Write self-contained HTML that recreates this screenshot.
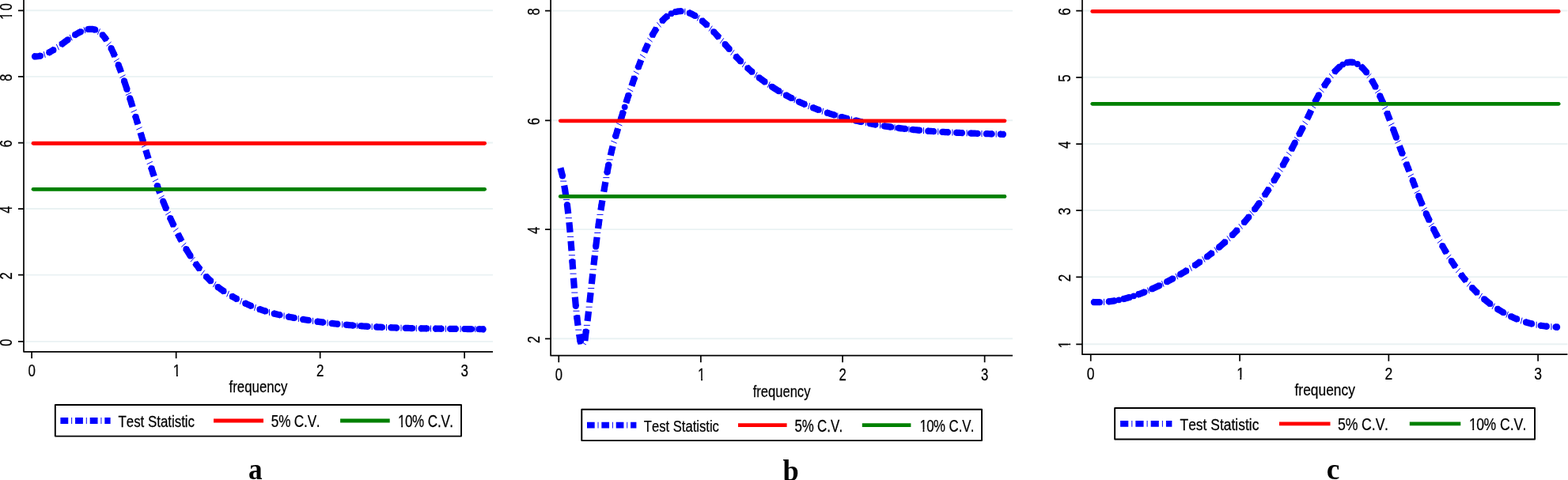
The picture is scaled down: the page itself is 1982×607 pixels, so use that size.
<!DOCTYPE html>
<html lang="en"><head><meta charset="utf-8"><title>Frequency-domain causality test</title>
<style>
html,body{margin:0;padding:0;background:#fff;}
body{width:1982px;height:607px;overflow:hidden;}
svg{display:block;font-family:"Liberation Sans", Arial, Helvetica, sans-serif;fill:#000;}
text{stroke:#000;stroke-width:0.25px;font-kerning:none;}
</style></head><body>
<svg width="1982" height="607" viewBox="0 0 1982 607">
<rect width="1982" height="607" fill="#fff"/>
<line x1="30" x2="623" y1="431.87" y2="431.87" stroke="#eaf2f3" stroke-width="1.9"/>
<line x1="30" x2="623" y1="347.62" y2="347.62" stroke="#eaf2f3" stroke-width="1.9"/>
<line x1="30" x2="623" y1="264.04" y2="264.04" stroke="#eaf2f3" stroke-width="1.9"/>
<line x1="30" x2="623" y1="180.54" y2="180.54" stroke="#eaf2f3" stroke-width="1.9"/>
<line x1="30" x2="623" y1="96.87" y2="96.87" stroke="#eaf2f3" stroke-width="1.9"/>
<line x1="30" x2="623" y1="13.29" y2="13.29" stroke="#eaf2f3" stroke-width="1.9"/>
<path d="M42.02 71.18L43.85 71.33L45.67 71.35L47.49 71.23L49.32 70.99L51.14 70.62L52.01 70.4M60.41 67.18L62.08 66.33L63.9 65.32L65.72 64.25L67.55 63.13L69.04 62.16M76.74 56.83L78.48 55.56L80.31 54.22L82.13 52.89L83.95 51.56L85.78 50.24L85.85 50.19M93.57 44.92L94.89 44.08L96.71 42.98L98.54 41.94L100.36 40.96L102.18 40.06L102.7 39.83M111.19 37.04L111.3 37.02L113.12 36.79L114.94 36.74L116.77 36.86L118.59 37.18L120.41 37.72L120.86 37.9M128.54 43.12L129.53 44.1L131.35 46.21L133.17 48.6L134.95 51.21M140.06 60.16L140.47 60.94L142.29 64.69L144.11 68.68L145.23 71.27M149.24 81.07L149.58 81.94L151.4 86.74L153.17 91.55M156.71 101.62L156.87 102.08L158.69 107.46L160.52 112.95L160.75 113.65M164.04 123.85L164.16 124.22L165.99 129.98L167.66 135.35M170.83 145.61L171.46 147.64L173.28 153.61L174.4 157.28M177.51 167.57L178.75 171.66L180.57 177.68L181.09 179.4M184.22 189.68L186.04 195.6L187.67 200.84M190.89 211.08L191.51 213.01L193.33 218.64L194.78 223.03M198.22 233.15L198.8 234.82L200.62 239.93L202.21 244.25M206.02 254.17L206.09 254.35L207.92 258.88L209.74 263.28L210.44 264.93M214.66 274.59L215.21 275.82L217.03 279.8L218.85 283.7L219.96 286.01M224.58 295.37L226.15 298.42L227.97 301.89L229.74 305.17M234.83 314.14L235.26 314.88L237.08 317.91L238.91 320.85L240.73 323.72L240.8 323.83M246.5 332.22L248.02 334.33L249.85 336.78L251.67 339.15L253.18 341.05M259.62 348.54L260.78 349.79L262.61 351.69L264.43 353.5L266.25 355.24L267.58 356.46M274.89 362.59L275.37 362.96L277.19 364.33L279.01 365.65L280.84 366.93L282.66 368.16L284.14 369.12M292.04 373.95L293.6 374.85L295.42 375.88L297.24 376.9L299.07 377.9L300.62 378.74M308.75 382.94L310 383.55L311.83 384.41L313.65 385.26L315.47 386.07L317.3 386.86L318.27 387.27M326.67 390.54L328.23 391.1L330.06 391.72L331.88 392.33L333.7 392.92L335.53 393.49L336.19 393.69M344.77 396.11L346.46 396.55L348.29 397.01L350.11 397.45L351.93 397.88L353.76 398.3L354.78 398.53M363.46 400.36L364.69 400.6L366.52 400.96L368.34 401.31L370.16 401.65L371.99 401.99L372.97 402.17M381.69 403.69L382.92 403.89L384.75 404.19L386.57 404.48L388.39 404.77L390.22 405.06L391.15 405.2M399.89 406.47L401.15 406.65L402.98 406.9L404.8 407.14L406.62 407.38L408.45 407.61L409.62 407.76M418.38 408.81L419.38 408.92L421.21 409.12L423.03 409.32L424.85 409.52L426.68 409.71L428.31 409.87M437.08 410.71L437.61 410.76L439.44 410.92L441.26 411.08L443.08 411.24L444.91 411.39L446.73 411.54L446.9 411.55M455.69 412.21L455.84 412.22L457.67 412.35L459.49 412.47L461.31 412.59L463.14 412.71L464.96 412.82L465.8 412.87M474.59 413.38L475.9 413.45L477.72 413.54L479.54 413.63L481.37 413.72L483.19 413.8L484.1 413.85M492.89 414.22L494.13 414.27L495.95 414.33L497.77 414.4L499.6 414.46L501.42 414.53L502.6 414.57M511.4 414.83L512.36 414.86L514.18 414.91L516 414.95L517.83 415L519.65 415.04L521.47 415.09L521.9 415.1M530.7 415.28L532.41 415.31L534.23 415.34L536.06 415.37L537.88 415.4L539.7 415.43L540.1 415.44M548.9 415.57L550.64 415.59L552.46 415.61L554.29 415.64L556.11 415.66L557.93 415.68L559 415.69M567.8 415.79L568.87 415.8L570.69 415.82L572.52 415.84L574.34 415.85L576.16 415.87L577.7 415.89M586.5 415.98L587.1 415.99L588.92 416.01L590.75 416.03L592.57 416.05L594.39 416.07L596.22 416.09L596.4 416.09M605.2 416.2L605.33 416.2L607.15 416.23L608.98 416.26L610.8 416.28L612.62 416.31" stroke="#0000ff" stroke-width="8.2" fill="none" stroke-linejoin="round"/>
<path d="M55.3 65.13L57.23 72.89M71.28 55.89L74.54 63.2M88.07 43.83L91.29 51.16M106.05 34.24L107.73 42.07M126.49 36.39L123.3 43.73M140.59 52.95L134.6 58.25M150.64 73.98L143.91 78.31M158.46 94.65L151.46 98.51M165.98 116.94L158.84 120.55M172.86 138.74L165.65 142.22M179.57 160.72L172.34 164.14M186.27 182.82L179.04 186.26M192.86 204.2L185.68 207.72M200.02 226.23L192.95 229.97M207.53 247.17L200.66 251.28M215.83 267.52L209.22 272.03M225.42 288.27L219.08 293.15M235.25 307.03L229.27 312.34M246.36 325.16L240.86 330.97M258.75 341.65L253.96 348.07M273.08 356.08L269.3 363.13M289.52 367.87L286.61 375.32M305.93 377.08L303.42 384.68M323.42 385.08L321.49 392.84M340.47 390.95L340.47 398.95M359.12 395.47L359.12 403.47M377.33 398.94L377.33 406.94M395.51 401.85L395.51 409.85M414 404.3L414 412.3M432.69 406.31L432.69 414.31M451.3 407.89L451.3 415.89M470.2 409.13L470.2 417.13M488.5 410.04L488.5 418.04M507 410.7L507 418.7M526.3 411.19L526.3 419.19M544.5 411.51L544.5 419.51M563.4 411.74L563.4 419.74M582.1 411.93L582.1 419.93M600.8 412.14L600.8 420.14" stroke="#0000ff" stroke-width="1" fill="none"/>
<g fill="#0000ff"><circle cx="43.85" cy="71.33" r="3.9"/><circle cx="51.14" cy="70.62" r="3.9"/><circle cx="62.08" cy="66.33" r="3.9"/><circle cx="67.55" cy="63.13" r="3.9"/><circle cx="78.48" cy="55.56" r="3.9"/><circle cx="85.78" cy="50.24" r="3.9"/><circle cx="94.89" cy="44.08" r="3.9"/><circle cx="102.18" cy="40.06" r="3.9"/><circle cx="111.3" cy="37.02" r="3.9"/><circle cx="120.41" cy="37.72" r="3.9"/><circle cx="129.53" cy="44.1" r="3.9"/><circle cx="133.17" cy="48.6" r="3.9"/><circle cx="140.47" cy="60.94" r="3.9"/><circle cx="144.11" cy="68.68" r="3.9"/><circle cx="149.58" cy="81.94" r="3.9"/><circle cx="151.4" cy="86.74" r="3.9"/><circle cx="156.87" cy="102.08" r="3.9"/><circle cx="160.52" cy="112.95" r="3.9"/><circle cx="164.16" cy="124.22" r="3.9"/><circle cx="165.99" cy="129.98" r="3.9"/><circle cx="171.46" cy="147.64" r="3.9"/><circle cx="173.28" cy="153.61" r="3.9"/><circle cx="178.75" cy="171.66" r="3.9"/><circle cx="180.57" cy="177.68" r="3.9"/><circle cx="186.04" cy="195.6" r="3.9"/><circle cx="191.51" cy="213.01" r="3.9"/><circle cx="193.33" cy="218.64" r="3.9"/><circle cx="198.8" cy="234.82" r="3.9"/><circle cx="200.62" cy="239.93" r="3.9"/><circle cx="206.09" cy="254.35" r="3.9"/><circle cx="209.74" cy="263.28" r="3.9"/><circle cx="215.21" cy="275.82" r="3.9"/><circle cx="218.85" cy="283.7" r="3.9"/><circle cx="226.15" cy="298.42" r="3.9"/><circle cx="227.97" cy="301.89" r="3.9"/><circle cx="235.26" cy="314.88" r="3.9"/><circle cx="240.73" cy="323.72" r="3.9"/><circle cx="248.02" cy="334.33" r="3.9"/><circle cx="251.67" cy="339.15" r="3.9"/><circle cx="260.78" cy="349.79" r="3.9"/><circle cx="266.25" cy="355.24" r="3.9"/><circle cx="275.37" cy="362.96" r="3.9"/><circle cx="282.66" cy="368.16" r="3.9"/><circle cx="293.6" cy="374.85" r="3.9"/><circle cx="299.07" cy="377.9" r="3.9"/><circle cx="310" cy="383.55" r="3.9"/><circle cx="317.3" cy="386.86" r="3.9"/><circle cx="328.23" cy="391.1" r="3.9"/><circle cx="335.53" cy="393.49" r="3.9"/><circle cx="346.46" cy="396.55" r="3.9"/><circle cx="353.76" cy="398.3" r="3.9"/><circle cx="364.69" cy="400.6" r="3.9"/><circle cx="371.99" cy="401.99" r="3.9"/><circle cx="382.92" cy="403.89" r="3.9"/><circle cx="390.22" cy="405.06" r="3.9"/><circle cx="401.15" cy="406.65" r="3.9"/><circle cx="408.45" cy="407.61" r="3.9"/><circle cx="419.38" cy="408.92" r="3.9"/><circle cx="426.68" cy="409.71" r="3.9"/><circle cx="437.61" cy="410.76" r="3.9"/><circle cx="446.73" cy="411.54" r="3.9"/><circle cx="455.84" cy="412.22" r="3.9"/><circle cx="464.96" cy="412.82" r="3.9"/><circle cx="475.9" cy="413.45" r="3.9"/><circle cx="483.19" cy="413.8" r="3.9"/><circle cx="494.13" cy="414.27" r="3.9"/><circle cx="501.42" cy="414.53" r="3.9"/><circle cx="512.36" cy="414.86" r="3.9"/><circle cx="521.47" cy="415.09" r="3.9"/><circle cx="532.41" cy="415.31" r="3.9"/><circle cx="539.7" cy="415.43" r="3.9"/><circle cx="550.64" cy="415.59" r="3.9"/><circle cx="557.93" cy="415.68" r="3.9"/><circle cx="568.87" cy="415.8" r="3.9"/><circle cx="576.16" cy="415.87" r="3.9"/><circle cx="587.1" cy="415.99" r="3.9"/><circle cx="596.22" cy="416.09" r="3.9"/><circle cx="605.33" cy="416.2" r="3.9"/><circle cx="610.8" cy="416.28" r="3.9"/></g>
<line x1="42.02" x2="612.62" y1="239.3" y2="239.3" stroke="#008000" stroke-width="4.8" stroke-linecap="round"/>
<line x1="42.02" x2="612.62" y1="181.25" y2="181.25" stroke="#ff0000" stroke-width="4.8" stroke-linecap="round"/>
<path d="M30 -2V444.82H623" stroke="#000" stroke-width="1.7" fill="none" stroke-linejoin="round"/>
<path d="M30 431.87h-7.05M30 347.62h-7.05M30 264.04h-7.05M30 180.54h-7.05M30 96.87h-7.05M30 13.29h-7.05M40.11 444.82v8.5M222.65 444.82v8.5M404.65 444.82v8.5M587.11 444.82v8.5" stroke="#000" stroke-width="1.7" fill="none"/>
<g transform="translate(14.9 433.07) rotate(-90) scale(0.73 1)"><text x="0" font-size="22.6" text-anchor="middle" xml:space="preserve">0</text></g>
<g transform="translate(14.9 348.82) rotate(-90) scale(0.73 1)"><text x="0" font-size="22.6" text-anchor="middle" xml:space="preserve">2</text></g>
<g transform="translate(14.9 265.24) rotate(-90) scale(0.73 1)"><text x="0" font-size="22.6" text-anchor="middle" xml:space="preserve">4</text></g>
<g transform="translate(14.9 181.74) rotate(-90) scale(0.73 1)"><text x="0" font-size="22.6" text-anchor="middle" xml:space="preserve">6</text></g>
<g transform="translate(14.9 98.07) rotate(-90) scale(0.73 1)"><text x="0" font-size="22.6" text-anchor="middle" xml:space="preserve">8</text></g>
<g transform="translate(14.9 13.29) rotate(-90) scale(0.73 1)"><text x="0" font-size="22.6" text-anchor="middle" xml:space="preserve" letter-spacing="3">10</text><path d="M-14.67 -2.69H-10.11V2.5H-14.67ZM-7.67 -2.69H-3.14V2.5H-7.67Z" fill="#fff" stroke="none"/></g>
<g transform="translate(40.11 476.3) scale(0.785 1)"><text x="0" font-size="21.6" text-anchor="middle" xml:space="preserve">0</text></g>
<g transform="translate(222.65 476.3) scale(0.785 1)"><text x="1.15" font-size="21.6" text-anchor="middle" xml:space="preserve">1</text><path d="M-4 -2.61H0.37V2.5H-4ZM2.68 -2.61H7.02V2.5H2.68Z" fill="#fff" stroke="none"/></g>
<g transform="translate(404.65 476.3) scale(0.785 1)"><text x="0" font-size="21.6" text-anchor="middle" xml:space="preserve">2</text></g>
<g transform="translate(587.11 476.3) scale(0.785 1)"><text x="0" font-size="21.6" text-anchor="middle" xml:space="preserve">3</text></g>
<g transform="translate(326.5 495.8) scale(0.82 1)"><text x="0" font-size="20.5" text-anchor="middle" xml:space="preserve">frequency</text></g>
<rect x="69.8" y="512.04" width="513.23" height="39.54" fill="#fff" stroke="#000" stroke-width="1.9" stroke-linejoin="round"/>
<path d="M76.4 532H86.24M95.04 532H104.88M113.68 532H123.52M132.32 532H139.6" stroke="#0000ff" stroke-width="7.8" fill="none"/>
<path d="M90.16 532H91.12M108.8 532H109.76M127.44 532H128.4" stroke="#0000ff" stroke-width="7.8" fill="none"/>
<line x1="270" x2="333" y1="532" y2="532" stroke="#ff0000" stroke-width="4.8"/>
<line x1="430.1" x2="492.7" y1="532" y2="532" stroke="#008000" stroke-width="4.8"/>
<g transform="translate(149.5 539.7) scale(0.8 1)"><text x="0" font-size="21.1" text-anchor="start" xml:space="preserve">Test Statistic</text></g>
<g transform="translate(342.4 539.7) scale(0.794 1)"><text x="0" font-size="21.6" text-anchor="start" xml:space="preserve" dx="0.31 0 -0.63 0 0 0 -0.82">5% C.V.</text></g>
<g transform="translate(502.2 539.7) scale(0.789 1)"><text x="0" font-size="21.6" text-anchor="start" xml:space="preserve" dx="1.14 -0.82 -0.63 0 0 0 -0.25 -0.89">10% C.V.</text><path d="M2 -2.61H6.37V2.5H2ZM8.68 -2.61H12.48V2.5H8.68Z" fill="#fff" stroke="none"/></g>
<text transform="translate(322.85 606.3) scale(0.94 1)" style="font-family:'Liberation Serif','Times New Roman',Times,serif;font-weight:bold;stroke:none" font-size="37.5" text-anchor="middle">a</text>
<line x1="696.11" x2="1280" y1="428.29" y2="428.29" stroke="#eaf2f3" stroke-width="1.9"/>
<line x1="696.11" x2="1280" y1="290.12" y2="290.12" stroke="#eaf2f3" stroke-width="1.9"/>
<line x1="696.11" x2="1280" y1="152.29" y2="152.29" stroke="#eaf2f3" stroke-width="1.9"/>
<line x1="696.11" x2="1280" y1="13.61" y2="13.61" stroke="#eaf2f3" stroke-width="1.9"/>
<path d="M708.4 212.4L711.01 222.5L711.24 223.73M713.17 234.45L714.18 240L715.19 246.96M716.77 257.78L716.91 258.8L718.25 270.24M719.43 281.14L720.65 293.89M721.54 304.83L722.2 313L722.5 317.31M723.29 328.27L723.49 331L724.16 340.65M724.94 351.61L725.91 364.59M726.82 375.53L727.82 387L727.91 387.8M729.04 398.71L729.38 402L730.58 411.68M732.1 422.51L733.5 431.5L734.65 434.52M739.34 430.9L740.7 419.3L741.07 416.77M742.59 405.95L744.01 393.67M745.22 382.77L745.98 375.94L746.63 369.99M747.82 359.09L749.23 346.22M750.45 335.32L751.36 327.18L751.85 323.06M753.13 312.18L753.16 311.91L754.62 299.87M756.01 289.02L756.75 283.34L757.71 276.78M759.37 265.99L760.34 259.94L761.41 253.38M763.2 242.62L763.92 238.3L765.35 230M767.26 219.26L767.51 217.83L769.31 208.37L769.54 207.24M771.77 196.61L772.9 191.61L774.62 184.79M777.55 174.44L778.28 171.99L780.07 166.12L781.23 162.37M784.39 152.13L785.46 148.7L787.25 142.97L788.06 140.41M791.31 130.21L792.64 126.09L794.43 120.6L795 118.88M798.39 108.76L799.81 104.59L801.61 99.43L802.51 96.89M806.13 86.9L806.99 84.59L808.79 79.88L810.38 75.81M814.38 66.05L815.96 62.36L817.76 58.35L819.2 55.25M823.85 45.97L824.94 43.95L826.73 40.8L828.53 37.84L830.08 35.45M836.07 27.51L837.5 25.9L839.29 24.05L841.09 22.37L842.88 20.87L844.57 19.61M852.57 15.48L853.65 15.14L855.44 14.7L857.24 14.4L859.03 14.23L860.83 14.19L861.54 14.22M870.09 15.9L871.59 16.46L873.39 17.22L875.18 18.07L876.98 19.03L878.77 20.07L878.99 20.21M886.56 25.56L887.74 26.51L889.54 28.02L891.33 29.59L893.13 31.22L894.77 32.77M901.57 39.58L902.1 40.13L903.89 42.03L905.69 43.96L907.48 45.92L909.28 47.9M915.77 55.2L916.46 55.97L918.25 58.01L920.05 60.04L921.84 62.06L922.57 62.88M929.11 70.1L930.81 71.92L932.61 73.82L934.4 75.68L936.2 77.5L936.88 78.18M943.79 84.82L945.17 86.08L946.96 87.69L948.76 89.27L950.55 90.83L951.79 91.87M959.09 97.79L959.52 98.13L961.32 99.51L963.11 100.86L964.91 102.18L966.7 103.48L967.96 104.38M975.6 109.58L975.67 109.62L977.47 110.79L979.26 111.93L981.06 113.05L982.85 114.15L984.65 115.24L984.68 115.26M992.57 119.81L993.62 120.39L995.41 121.37L997.21 122.33L999 123.27L1000.8 124.2L1000.92 124.26M1009 128.23L1009.77 128.59L1011.57 129.42L1013.36 130.24L1015.15 131.04L1016.95 131.83L1018.46 132.48M1026.71 135.87L1027.72 136.26L1029.51 136.95L1031.3 137.63L1033.1 138.3L1034.89 138.96L1035.69 139.24M1044.05 142.12L1045.66 142.64L1047.45 143.22L1049.25 143.79L1051.04 144.34L1052.84 144.89L1054.63 145.42L1054.64 145.42M1063.09 147.83L1063.61 147.97L1065.4 148.45L1067.19 148.93L1068.99 149.39L1070.78 149.85L1072.28 150.23M1080.79 152.28L1081.55 152.45L1083.35 152.86L1085.14 153.26L1086.93 153.66L1088.73 154.04L1090.03 154.32M1098.6 156.04L1099.5 156.22L1101.29 156.56L1103.08 156.89L1104.88 157.21L1106.67 157.53L1108.19 157.8M1116.79 159.22L1117.44 159.33L1119.24 159.61L1121.03 159.88L1122.82 160.15L1124.62 160.41L1126.41 160.66L1126.73 160.71M1135.35 161.86L1135.39 161.86L1137.18 162.09L1138.97 162.31L1140.77 162.52L1142.56 162.73L1144.36 162.94L1144.65 162.97M1153.28 163.89L1153.33 163.89L1155.12 164.07L1156.92 164.24L1158.71 164.41L1160.51 164.58L1162.3 164.74L1163.18 164.82M1171.83 165.53L1173.07 165.63L1174.86 165.77L1176.66 165.9L1178.45 166.03L1180.25 166.15L1181.38 166.23M1190.04 166.78L1191.01 166.84L1192.81 166.94L1194.6 167.05L1196.4 167.14L1198.19 167.24L1199.58 167.31M1208.24 167.74L1208.96 167.77L1210.75 167.85L1212.55 167.93L1214.34 168.01L1216.14 168.08L1217.78 168.15M1226.45 168.48L1226.9 168.5L1228.7 168.56L1230.49 168.62L1232.29 168.69L1234.08 168.75L1235.88 168.81L1236.68 168.83M1245.34 169.11L1246.64 169.15L1248.44 169.2L1250.23 169.26L1252.03 169.31L1253.82 169.36L1254.86 169.39M1263.53 169.65L1264.59 169.68L1266.38 169.74L1268.18 169.79L1269.97 169.84" stroke="#0000ff" stroke-width="8.2" fill="none" stroke-linejoin="round"/>
<path d="M708.2 229.09L716.2 229.09M711.98 252.37L719.98 252.37M714.89 275.68L722.89 275.68M717.1 299.36L725.1 299.36M718.9 322.79L726.9 322.79M720.55 346.13L728.55 346.13M722.34 370.06L730.34 370.06M724.47 393.25L732.47 393.25M727.26 417.11L735.26 417.11M737.2 433.9L740.9 435.9M737.85 411.37L745.85 411.37M740.62 388.22L748.62 388.22M743.22 364.54L751.22 364.54M745.83 340.77L753.83 340.77M748.49 317.62L756.49 317.62M751.3 294.44L759.3 294.44M754.5 271.38L762.5 271.38M758.3 248L766.3 248M762.3 224.63L770.3 224.63M766.63 201.91L774.63 201.91M772.4 177.97L779.7 181.23M779.22 155.47L786.39 159.03M793.17 111.91L800.2 115.72M800.85 89.87L807.76 93.9M809.01 68.71L815.69 73.11M818.35 48.06L824.58 53.08M830.43 28.28L835.52 34.45M865.85 10.74L865.85 18.74M884.44 19.09L881.22 26.41M900.32 32.73L896.09 39.52M914.82 48.26L910.24 54.82M928.09 63.21L923.57 69.81M942.36 78.1L938.27 84.98M957.21 91.3L953.62 98.45M973.32 103.33L970.21 110.7M989.96 113.8L987.26 121.33M1006.11 122.45L1003.78 130.1M1023.56 130.33L1021.59 138.08M1040.7 136.8L1039.03 144.62M1058.86 142.65L1058.86 150.65M1076.53 147.28L1076.53 155.28M1094.31 151.2L1094.31 159.2M1112.49 154.53L1112.49 162.53M1131.04 157.3L1131.04 165.3M1148.96 159.44L1148.96 167.44M1167.5 161.19L1167.5 169.19M1185.71 162.51L1185.71 170.51M1203.91 163.53L1203.91 171.53M1222.12 164.32L1222.12 172.32M1241.01 164.97L1241.01 172.97M1259.2 165.52L1259.2 173.52" stroke="#0000ff" stroke-width="1" fill="none"/>
<g fill="#0000ff"><circle cx="711.01" cy="222.5" r="3.9"/><circle cx="714.18" cy="240" r="3.9"/><circle cx="716.91" cy="258.8" r="3.9"/><circle cx="722.2" cy="313" r="3.9"/><circle cx="723.49" cy="331" r="3.9"/><circle cx="727.82" cy="387" r="3.9"/><circle cx="729.38" cy="402" r="3.9"/><circle cx="733.5" cy="431.5" r="3.9"/><circle cx="740.7" cy="419.3" r="3.9"/><circle cx="745.98" cy="375.94" r="3.9"/><circle cx="751.36" cy="327.18" r="3.9"/><circle cx="753.16" cy="311.91" r="3.9"/><circle cx="756.75" cy="283.34" r="3.9"/><circle cx="760.34" cy="259.94" r="3.9"/><circle cx="763.92" cy="238.3" r="3.9"/><circle cx="767.51" cy="217.83" r="3.9"/><circle cx="769.31" cy="208.37" r="3.9"/><circle cx="772.9" cy="191.61" r="3.9"/><circle cx="778.28" cy="171.99" r="3.9"/><circle cx="780.07" cy="166.12" r="3.9"/><circle cx="785.46" cy="148.7" r="3.9"/><circle cx="787.25" cy="142.97" r="3.9"/><circle cx="792.64" cy="126.09" r="3.9"/><circle cx="794.43" cy="120.6" r="3.9"/><circle cx="799.81" cy="104.59" r="3.9"/><circle cx="801.61" cy="99.43" r="3.9"/><circle cx="806.99" cy="84.59" r="3.9"/><circle cx="808.79" cy="79.88" r="3.9"/><circle cx="815.96" cy="62.36" r="3.9"/><circle cx="817.76" cy="58.35" r="3.9"/><circle cx="824.94" cy="43.95" r="3.9"/><circle cx="828.53" cy="37.84" r="3.9"/><circle cx="837.5" cy="25.9" r="3.9"/><circle cx="842.88" cy="20.87" r="3.9"/><circle cx="853.65" cy="15.14" r="3.9"/><circle cx="860.83" cy="14.19" r="3.9"/><circle cx="871.59" cy="16.46" r="3.9"/><circle cx="878.77" cy="20.07" r="3.9"/><circle cx="887.74" cy="26.51" r="3.9"/><circle cx="893.13" cy="31.22" r="3.9"/><circle cx="902.1" cy="40.13" r="3.9"/><circle cx="907.48" cy="45.92" r="3.9"/><circle cx="916.46" cy="55.97" r="3.9"/><circle cx="921.84" cy="62.06" r="3.9"/><circle cx="930.81" cy="71.92" r="3.9"/><circle cx="936.2" cy="77.5" r="3.9"/><circle cx="945.17" cy="86.08" r="3.9"/><circle cx="950.55" cy="90.83" r="3.9"/><circle cx="959.52" cy="98.13" r="3.9"/><circle cx="966.7" cy="103.48" r="3.9"/><circle cx="975.67" cy="109.62" r="3.9"/><circle cx="984.65" cy="115.24" r="3.9"/><circle cx="993.62" cy="120.39" r="3.9"/><circle cx="1000.8" cy="124.2" r="3.9"/><circle cx="1009.77" cy="128.59" r="3.9"/><circle cx="1016.95" cy="131.83" r="3.9"/><circle cx="1027.72" cy="136.26" r="3.9"/><circle cx="1034.89" cy="138.96" r="3.9"/><circle cx="1045.66" cy="142.64" r="3.9"/><circle cx="1054.63" cy="145.42" r="3.9"/><circle cx="1063.61" cy="147.97" r="3.9"/><circle cx="1070.78" cy="149.85" r="3.9"/><circle cx="1081.55" cy="152.45" r="3.9"/><circle cx="1088.73" cy="154.04" r="3.9"/><circle cx="1099.5" cy="156.22" r="3.9"/><circle cx="1106.67" cy="157.53" r="3.9"/><circle cx="1117.44" cy="159.33" r="3.9"/><circle cx="1126.41" cy="160.66" r="3.9"/><circle cx="1135.39" cy="161.86" r="3.9"/><circle cx="1144.36" cy="162.94" r="3.9"/><circle cx="1153.33" cy="163.89" r="3.9"/><circle cx="1162.3" cy="164.74" r="3.9"/><circle cx="1173.07" cy="165.63" r="3.9"/><circle cx="1180.25" cy="166.15" r="3.9"/><circle cx="1191.01" cy="166.84" r="3.9"/><circle cx="1198.19" cy="167.24" r="3.9"/><circle cx="1208.96" cy="167.77" r="3.9"/><circle cx="1216.14" cy="168.08" r="3.9"/><circle cx="1226.9" cy="168.5" r="3.9"/><circle cx="1235.88" cy="168.81" r="3.9"/><circle cx="1246.64" cy="169.15" r="3.9"/><circle cx="1253.82" cy="169.36" r="3.9"/><circle cx="1264.59" cy="169.68" r="3.9"/><circle cx="1268.18" cy="169.79" r="3.9"/><circle cx="789.68" cy="135.31" r="3.9"/><circle cx="848.47" cy="17.22" r="3.9"/></g>
<line x1="708.29" x2="1269.97" y1="248.45" y2="248.45" stroke="#008000" stroke-width="4.8" stroke-linecap="round"/>
<line x1="708.29" x2="1269.97" y1="152.8" y2="152.8" stroke="#ff0000" stroke-width="4.8" stroke-linecap="round"/>
<path d="M696.11 -2V449.63H1280" stroke="#000" stroke-width="1.7" fill="none" stroke-linejoin="round"/>
<path d="M696.11 428.29h-7.05M696.11 290.12h-7.05M696.11 152.29h-7.05M696.11 13.61h-7.05M706.28 449.63v8.5M885.86 449.63v8.5M1065.06 449.63v8.5M1244.62 449.63v8.5" stroke="#000" stroke-width="1.7" fill="none"/>
<g transform="translate(681.7 429.49) rotate(-90) scale(0.719 1)"><text x="0" font-size="22.6" text-anchor="middle" xml:space="preserve">2</text></g>
<g transform="translate(681.7 291.32) rotate(-90) scale(0.719 1)"><text x="0" font-size="22.6" text-anchor="middle" xml:space="preserve">4</text></g>
<g transform="translate(681.7 153.49) rotate(-90) scale(0.719 1)"><text x="0" font-size="22.6" text-anchor="middle" xml:space="preserve">6</text></g>
<g transform="translate(681.7 14.81) rotate(-90) scale(0.719 1)"><text x="0" font-size="22.6" text-anchor="middle" xml:space="preserve">8</text></g>
<g transform="translate(706.28 481.2) scale(0.7732 1)"><text x="0" font-size="21.6" text-anchor="middle" xml:space="preserve">0</text></g>
<g transform="translate(885.86 481.2) scale(0.7732 1)"><text x="1.16" font-size="21.6" text-anchor="middle" xml:space="preserve">1</text><path d="M-3.98 -2.61H0.38V2.5H-3.98ZM2.7 -2.61H7.04V2.5H2.7Z" fill="#fff" stroke="none"/></g>
<g transform="translate(1065.06 481.2) scale(0.7732 1)"><text x="0" font-size="21.6" text-anchor="middle" xml:space="preserve">2</text></g>
<g transform="translate(1244.62 481.2) scale(0.7732 1)"><text x="0" font-size="21.6" text-anchor="middle" xml:space="preserve">3</text></g>
<g transform="translate(988.06 502) scale(0.8077 1)"><text x="0" font-size="20.5" text-anchor="middle" xml:space="preserve">frequency</text></g>
<rect x="735.29" y="517.79" width="505.74" height="39.29" fill="#fff" stroke="#000" stroke-width="1.9" stroke-linejoin="round"/>
<path d="M742 537.7H751.69M760.36 537.7H770.05M778.72 537.7H788.41M797.08 537.7H804.4" stroke="#0000ff" stroke-width="7.8" fill="none"/>
<path d="M755.55 537.7H756.5M773.91 537.7H774.86M792.27 537.7H793.22" stroke="#0000ff" stroke-width="7.8" fill="none"/>
<line x1="933" x2="994.6" y1="537.7" y2="537.7" stroke="#ff0000" stroke-width="4.8"/>
<line x1="1089.8" x2="1151.4" y1="537.7" y2="537.7" stroke="#008000" stroke-width="4.8"/>
<g transform="translate(813.8 545.5) scale(0.788 1)"><text x="0" font-size="21.1" text-anchor="start" xml:space="preserve">Test Statistic</text></g>
<g transform="translate(1004.2 545.5) scale(0.7821 1)"><text x="0" font-size="21.6" text-anchor="start" xml:space="preserve" dx="0.31 0 -0.63 0 0 0 -0.82">5% C.V.</text></g>
<g transform="translate(1161.6 545.5) scale(0.7772 1)"><text x="0" font-size="21.6" text-anchor="start" xml:space="preserve" dx="1.14 -0.82 -0.63 0 0 0 -0.25 -0.89">10% C.V.</text><path d="M2 -2.61H6.37V2.5H2ZM8.69 -2.61H12.48V2.5H8.69Z" fill="#fff" stroke="none"/></g>
<text transform="translate(999.6 607.8) scale(0.985 1)" style="font-family:'Liberation Serif','Times New Roman',Times,serif;font-weight:bold;stroke:none" font-size="37" text-anchor="middle">b</text>
<line x1="1368" x2="1981.4" y1="435.29" y2="435.29" stroke="#eaf2f3" stroke-width="1.9"/>
<line x1="1368" x2="1981.4" y1="350.29" y2="350.29" stroke="#eaf2f3" stroke-width="1.9"/>
<line x1="1368" x2="1981.4" y1="266.04" y2="266.04" stroke="#eaf2f3" stroke-width="1.9"/>
<line x1="1368" x2="1981.4" y1="182.03" y2="182.03" stroke="#eaf2f3" stroke-width="1.9"/>
<line x1="1368" x2="1981.4" y1="97.79" y2="97.79" stroke="#eaf2f3" stroke-width="1.9"/>
<line x1="1368" x2="1981.4" y1="13.54" y2="13.54" stroke="#eaf2f3" stroke-width="1.9"/>
<path d="M1380.78 381.97L1382.67 382.06L1384.55 382.12L1386.43 382.16L1388.32 382.16L1390.2 382.13L1390.95 382.1M1400.03 381.51L1401.5 381.35L1403.38 381.13L1405.26 380.88L1407.14 380.6L1409.03 380.29L1409.82 380.16M1418.79 378.32L1420.33 377.95L1422.21 377.48L1424.09 376.98L1425.98 376.46L1427.86 375.92L1428.65 375.68M1437.44 372.84L1439.16 372.23L1441.04 371.54L1442.92 370.84L1444.81 370.12L1446.69 369.37L1447.27 369.14M1455.86 365.51L1456.1 365.4L1457.99 364.56L1459.87 363.7L1461.75 362.83L1463.64 361.94L1465.52 361.03L1465.62 360.98M1474.02 356.77L1474.93 356.3L1476.82 355.32L1478.7 354.32L1480.58 353.31L1482.47 352.29L1483.33 351.82M1491.58 347.17L1491.88 347L1493.76 345.9L1495.65 344.78L1497.53 343.65L1499.41 342.51L1500.92 341.58M1508.97 336.45L1510.71 335.3L1512.59 334.04L1514.48 332.76L1516.36 331.46L1517.48 330.68M1525.29 325.04L1525.77 324.69L1527.66 323.27L1529.54 321.84L1531.42 320.38L1533.13 319.04M1540.67 312.89L1540.84 312.75L1542.72 311.14L1544.6 309.51L1546.49 307.85L1548.37 306.16L1549.53 305.1M1556.69 298.31L1557.79 297.23L1559.67 295.34L1561.55 293.42L1563.43 291.46L1564.79 290.01M1571.51 282.58L1572.85 281.04L1574.73 278.83L1576.62 276.57L1578.5 274.28L1579.09 273.53M1585.34 265.53L1586.03 264.62L1587.91 262.1L1589.8 259.53L1591.68 256.91L1592.13 256.27M1597.96 247.83L1599.21 245.97L1601.09 243.12L1602.98 240.22L1604.35 238.07M1609.82 229.28L1610.51 228.16L1612.39 225.03L1614.28 221.85L1615.76 219.3M1620.93 210.24L1621.81 208.67L1623.69 205.28L1625.57 201.84L1626.91 199.38M1631.84 190.13L1633.11 187.73L1634.99 184.11L1636.87 180.47L1636.93 180.35M1641.72 171L1642.52 169.44L1644.4 165.76L1646.29 162.08L1647.34 160.01M1652.07 150.6L1653.82 146.99L1655.7 143.03L1657.43 139.35M1661.98 129.82L1663.23 127.29L1665.12 123.63L1667 120.16L1667.83 118.7M1673.18 109.81L1674.53 107.71L1676.41 104.88L1678.3 102.13L1679.73 100.11M1685.92 92.06L1687.71 90L1689.6 87.99L1691.48 86.14L1693.36 84.47L1693.42 84.42M1701.54 79.57L1702.78 79.16L1704.66 78.76L1706.54 78.58L1708.43 78.63L1710.31 78.9L1711.54 79.22M1719.8 83.69L1721.61 85.25L1723.49 87.1L1725.37 89.18L1727.26 91.49L1727.52 91.84M1733.3 100.34L1734.79 102.82L1736.67 106.15L1738.55 109.66L1739.15 110.82M1743.77 120.3L1744.2 121.23L1746.09 125.41L1747.97 129.74L1748.69 131.45M1752.72 141.31L1753.62 143.56L1755.5 148.43L1756.97 152.32M1760.69 162.36L1761.15 163.6L1763.03 168.76L1764.91 173.91L1765.1 174.41M1768.82 184.45L1770.56 189.06L1772.45 193.91L1773.14 195.66M1777.07 205.58L1778.1 208.16L1779.98 212.99L1781.46 216.86M1785.23 226.87L1785.63 227.93L1787.51 232.96L1789.26 237.6M1793.1 247.58L1793.16 247.74L1795.04 252.47L1796.93 257.04L1798.12 259.84M1802.41 269.54L1802.58 269.9L1804.46 273.97L1806.34 277.97L1807.17 279.7M1811.79 289.18L1811.99 289.59L1813.87 293.33L1815.76 297L1817.56 300.44M1822.54 309.65L1823.29 311L1825.17 314.33L1827.05 317.58L1828.63 320.25M1834.07 329.06L1834.59 329.87L1836.47 332.75L1838.35 335.57L1840.04 338.03M1846.05 346.29L1847.77 348.54L1849.65 350.93L1851.53 353.25L1853.41 355.5M1860.07 362.99L1860.95 363.93L1862.83 365.89L1864.71 367.8L1866.6 369.65L1867.95 370.95M1875.25 377.52L1876.01 378.17L1877.89 379.74L1879.78 381.26L1881.66 382.74L1883.54 384.17L1883.86 384.41M1891.73 389.94L1892.96 390.75L1894.84 391.95L1896.73 393.11L1898.61 394.23L1900.49 395.31L1900.96 395.57M1909.32 399.9L1909.91 400.18L1911.79 401.05L1913.67 401.89L1915.56 402.69L1917.44 403.46L1918.79 403.99M1927.53 407.04L1928.74 407.41L1930.62 407.96L1932.5 408.48L1934.39 408.98L1936.27 409.44L1937.62 409.76M1946.6 411.53L1947.57 411.68L1949.45 411.97L1951.33 412.23L1953.22 412.47L1955.1 412.68L1956.37 412.81M1965.45 413.46L1966.4 413.5L1968.28 413.57L1970.16 413.62" stroke="#0000ff" stroke-width="8.2" fill="none" stroke-linejoin="round"/>
<path d="M1395.49 377.89L1395.49 385.89M1450.46 363.52L1452.69 371.21M1468.53 355.12L1471.13 362.69M1486.03 345.79L1488.91 353.25M1503.36 335.37L1506.56 342.71M1519.63 324.31L1523.17 331.48M1534.97 312.5L1538.87 319.49M1550.96 298.39L1555.31 305.1M1565.76 283.14L1570.59 289.52M1579.61 266.56L1584.88 272.57M1592.26 249.23L1597.88 254.91M1604.15 231.01L1610.07 236.39M1615.29 212.22L1621.43 217.34M1626.23 192.31L1632.54 197.23M1636.13 173.28L1642.53 178.07M1646.5 152.95L1652.94 157.69M1656.41 132.29L1662.97 136.86M1667.45 111.57L1673.45 116.85M1680.1 93.03L1685.42 99.01M1733.34 93.17L1727.67 98.81M1744.76 113.21L1738.25 117.85M1754.16 134.31L1747.29 138.41M1762.36 155.43L1755.32 159.24M1770.47 177.53L1763.43 181.34M1778.56 198.61L1771.65 202.63M1786.85 219.93L1779.85 223.79M1794.65 240.64L1787.68 244.56M1803.6 262.53L1796.88 266.87M1812.72 282.14L1806.2 286.77M1823.16 302.58L1816.89 307.55M1834.29 322L1828.35 327.36M1845.75 339.28L1840.27 345.11M1859.14 356.13L1854.26 362.46M1873.66 370.89L1869.47 377.7M1889.5 383.64L1886.03 390.84M1906.45 394.04L1903.78 401.58M1924.07 401.7L1922.21 409.48M1942.1 406.72L1942.1 414.72M1960.91 409.2L1960.91 417.2" stroke="#0000ff" stroke-width="1" fill="none"/>
<g fill="#0000ff"><circle cx="1382.67" cy="382.06" r="3.9"/><circle cx="1390.2" cy="382.13" r="3.9"/><circle cx="1401.5" cy="381.35" r="3.9"/><circle cx="1409.03" cy="380.29" r="3.9"/><circle cx="1420.33" cy="377.95" r="3.9"/><circle cx="1427.86" cy="375.92" r="3.9"/><circle cx="1439.16" cy="372.23" r="3.9"/><circle cx="1446.69" cy="369.37" r="3.9"/><circle cx="1456.1" cy="365.4" r="3.9"/><circle cx="1465.52" cy="361.03" r="3.9"/><circle cx="1474.93" cy="356.3" r="3.9"/><circle cx="1482.47" cy="352.29" r="3.9"/><circle cx="1491.88" cy="347" r="3.9"/><circle cx="1499.41" cy="342.51" r="3.9"/><circle cx="1510.71" cy="335.3" r="3.9"/><circle cx="1516.36" cy="331.46" r="3.9"/><circle cx="1525.77" cy="324.69" r="3.9"/><circle cx="1531.42" cy="320.38" r="3.9"/><circle cx="1540.84" cy="312.75" r="3.9"/><circle cx="1548.37" cy="306.16" r="3.9"/><circle cx="1557.79" cy="297.23" r="3.9"/><circle cx="1563.43" cy="291.46" r="3.9"/><circle cx="1572.85" cy="281.04" r="3.9"/><circle cx="1578.5" cy="274.28" r="3.9"/><circle cx="1586.03" cy="264.62" r="3.9"/><circle cx="1591.68" cy="256.91" r="3.9"/><circle cx="1599.21" cy="245.97" r="3.9"/><circle cx="1602.98" cy="240.22" r="3.9"/><circle cx="1610.51" cy="228.16" r="3.9"/><circle cx="1614.28" cy="221.85" r="3.9"/><circle cx="1621.81" cy="208.67" r="3.9"/><circle cx="1625.57" cy="201.84" r="3.9"/><circle cx="1633.11" cy="187.73" r="3.9"/><circle cx="1636.87" cy="180.47" r="3.9"/><circle cx="1642.52" cy="169.44" r="3.9"/><circle cx="1646.29" cy="162.08" r="3.9"/><circle cx="1653.82" cy="146.99" r="3.9"/><circle cx="1655.7" cy="143.03" r="3.9"/><circle cx="1663.23" cy="127.29" r="3.9"/><circle cx="1667" cy="120.16" r="3.9"/><circle cx="1674.53" cy="107.71" r="3.9"/><circle cx="1678.3" cy="102.13" r="3.9"/><circle cx="1687.71" cy="90" r="3.9"/><circle cx="1693.36" cy="84.47" r="3.9"/><circle cx="1702.78" cy="79.16" r="3.9"/><circle cx="1710.31" cy="78.9" r="3.9"/><circle cx="1721.61" cy="85.25" r="3.9"/><circle cx="1727.26" cy="91.49" r="3.9"/><circle cx="1734.79" cy="102.82" r="3.9"/><circle cx="1738.55" cy="109.66" r="3.9"/><circle cx="1744.2" cy="121.23" r="3.9"/><circle cx="1747.97" cy="129.74" r="3.9"/><circle cx="1753.62" cy="143.56" r="3.9"/><circle cx="1755.5" cy="148.43" r="3.9"/><circle cx="1761.15" cy="163.6" r="3.9"/><circle cx="1764.91" cy="173.91" r="3.9"/><circle cx="1770.56" cy="189.06" r="3.9"/><circle cx="1772.45" cy="193.91" r="3.9"/><circle cx="1778.1" cy="208.16" r="3.9"/><circle cx="1779.98" cy="212.99" r="3.9"/><circle cx="1785.63" cy="227.93" r="3.9"/><circle cx="1787.51" cy="232.96" r="3.9"/><circle cx="1793.16" cy="247.74" r="3.9"/><circle cx="1796.93" cy="257.04" r="3.9"/><circle cx="1802.58" cy="269.9" r="3.9"/><circle cx="1806.34" cy="277.97" r="3.9"/><circle cx="1811.99" cy="289.59" r="3.9"/><circle cx="1815.76" cy="297" r="3.9"/><circle cx="1823.29" cy="311" r="3.9"/><circle cx="1827.05" cy="317.58" r="3.9"/><circle cx="1834.59" cy="329.87" r="3.9"/><circle cx="1838.35" cy="335.57" r="3.9"/><circle cx="1847.77" cy="348.54" r="3.9"/><circle cx="1851.53" cy="353.25" r="3.9"/><circle cx="1860.95" cy="363.93" r="3.9"/><circle cx="1866.6" cy="369.65" r="3.9"/><circle cx="1876.01" cy="378.17" r="3.9"/><circle cx="1883.54" cy="384.17" r="3.9"/><circle cx="1892.96" cy="390.75" r="3.9"/><circle cx="1900.49" cy="395.31" r="3.9"/><circle cx="1909.91" cy="400.18" r="3.9"/><circle cx="1917.44" cy="403.46" r="3.9"/><circle cx="1928.74" cy="407.41" r="3.9"/><circle cx="1936.27" cy="409.44" r="3.9"/><circle cx="1947.57" cy="411.68" r="3.9"/><circle cx="1955.1" cy="412.68" r="3.9"/><circle cx="1966.4" cy="413.5" r="3.9"/><circle cx="1968.28" cy="413.57" r="3.9"/><circle cx="1414.31" cy="379.31" r="3.9"/><circle cx="1433.06" cy="374.31" r="3.9"/><circle cx="1697.32" cy="81.59" r="3.9"/><circle cx="1715.84" cy="80.99" r="3.9"/></g>
<line x1="1380.78" x2="1970.16" y1="131.3" y2="131.3" stroke="#008000" stroke-width="4.8" stroke-linecap="round"/>
<line x1="1380.78" x2="1970.16" y1="14.4" y2="14.4" stroke="#ff0000" stroke-width="4.8" stroke-linecap="round"/>
<path d="M1368 -2V448.2H1981.4" stroke="#000" stroke-width="1.7" fill="none" stroke-linejoin="round"/>
<path d="M1368 435.29h-7.75M1368 350.29h-7.75M1368 266.04h-7.75M1368 182.03h-7.75M1368 97.79h-7.75M1368 13.54h-7.75M1378.73 448.2v8.5M1567.11 448.2v8.5M1755.36 448.2v8.5M1944.11 448.2v8.5" stroke="#000" stroke-width="1.7" fill="none"/>
<g transform="translate(1352.7 435.69) rotate(-90) scale(0.7548 1)"><text x="0" font-size="22.6" text-anchor="middle" xml:space="preserve">1</text><path d="M-5.38 -2.69H-0.81V2.5H-5.38ZM1.61 -2.69H6.14V2.5H1.61Z" fill="#fff" stroke="none"/></g>
<g transform="translate(1352.7 351.49) rotate(-90) scale(0.7548 1)"><text x="0" font-size="22.6" text-anchor="middle" xml:space="preserve">2</text></g>
<g transform="translate(1352.7 267.24) rotate(-90) scale(0.7548 1)"><text x="0" font-size="22.6" text-anchor="middle" xml:space="preserve">3</text></g>
<g transform="translate(1352.7 183.23) rotate(-90) scale(0.7548 1)"><text x="0" font-size="22.6" text-anchor="middle" xml:space="preserve">4</text></g>
<g transform="translate(1352.7 98.99) rotate(-90) scale(0.7548 1)"><text x="0" font-size="22.6" text-anchor="middle" xml:space="preserve">5</text></g>
<g transform="translate(1352.7 14.74) rotate(-90) scale(0.7548 1)"><text x="0" font-size="22.6" text-anchor="middle" xml:space="preserve">6</text></g>
<g transform="translate(1378.73 480.05) scale(0.8117 1)"><text x="0" font-size="21.6" text-anchor="middle" xml:space="preserve">0</text></g>
<g transform="translate(1567.11 480.05) scale(0.8117 1)"><text x="1.11" font-size="21.6" text-anchor="middle" xml:space="preserve">1</text><path d="M-4.03 -2.61H0.34V2.5H-4.03ZM2.64 -2.61H6.98V2.5H2.64Z" fill="#fff" stroke="none"/></g>
<g transform="translate(1755.36 480.05) scale(0.8117 1)"><text x="0" font-size="21.6" text-anchor="middle" xml:space="preserve">2</text></g>
<g transform="translate(1944.11 480.05) scale(0.8117 1)"><text x="0" font-size="21.6" text-anchor="middle" xml:space="preserve">3</text></g>
<g transform="translate(1674.7 499.5) scale(0.8479 1)"><text x="0" font-size="20.5" text-anchor="middle" xml:space="preserve">frequency</text></g>
<rect x="1409.14" y="516.04" width="530.9" height="39.42" fill="#fff" stroke="#000" stroke-width="1.9" stroke-linejoin="round"/>
<path d="M1416.1 535.95H1426.27M1435.37 535.95H1445.55M1454.65 535.95H1464.82M1473.92 535.95H1481.4" stroke="#0000ff" stroke-width="7.8" fill="none"/>
<path d="M1430.33 535.95H1431.32M1449.6 535.95H1450.59M1468.88 535.95H1469.87" stroke="#0000ff" stroke-width="7.8" fill="none"/>
<line x1="1617" x2="1681.5" y1="535.95" y2="535.95" stroke="#ff0000" stroke-width="4.8"/>
<line x1="1781.8" x2="1846.3" y1="535.95" y2="535.95" stroke="#008000" stroke-width="4.8"/>
<g transform="translate(1491.5 544.1) scale(0.8272 1)"><text x="0" font-size="21.1" text-anchor="start" xml:space="preserve">Test Statistic</text></g>
<g transform="translate(1690.7 544.1) scale(0.821 1)"><text x="0" font-size="21.6" text-anchor="start" xml:space="preserve" dx="0.31 0 -0.63 0 0 0 -0.82">5% C.V.</text></g>
<g transform="translate(1856.1 544.1) scale(0.8158 1)"><text x="0" font-size="21.6" text-anchor="start" xml:space="preserve" dx="1.14 -0.82 -0.63 0 0 0 -0.25 -0.89">10% C.V.</text><path d="M2 -2.61H6.38V2.5H2ZM8.68 -2.61H12.48V2.5H8.68Z" fill="#fff" stroke="none"/></g>
<text transform="translate(1685 606.3) scale(1 1)" style="font-family:'Liberation Serif','Times New Roman',Times,serif;font-weight:bold;stroke:none" font-size="37.5" text-anchor="middle">c</text>
</svg>
</body></html>
